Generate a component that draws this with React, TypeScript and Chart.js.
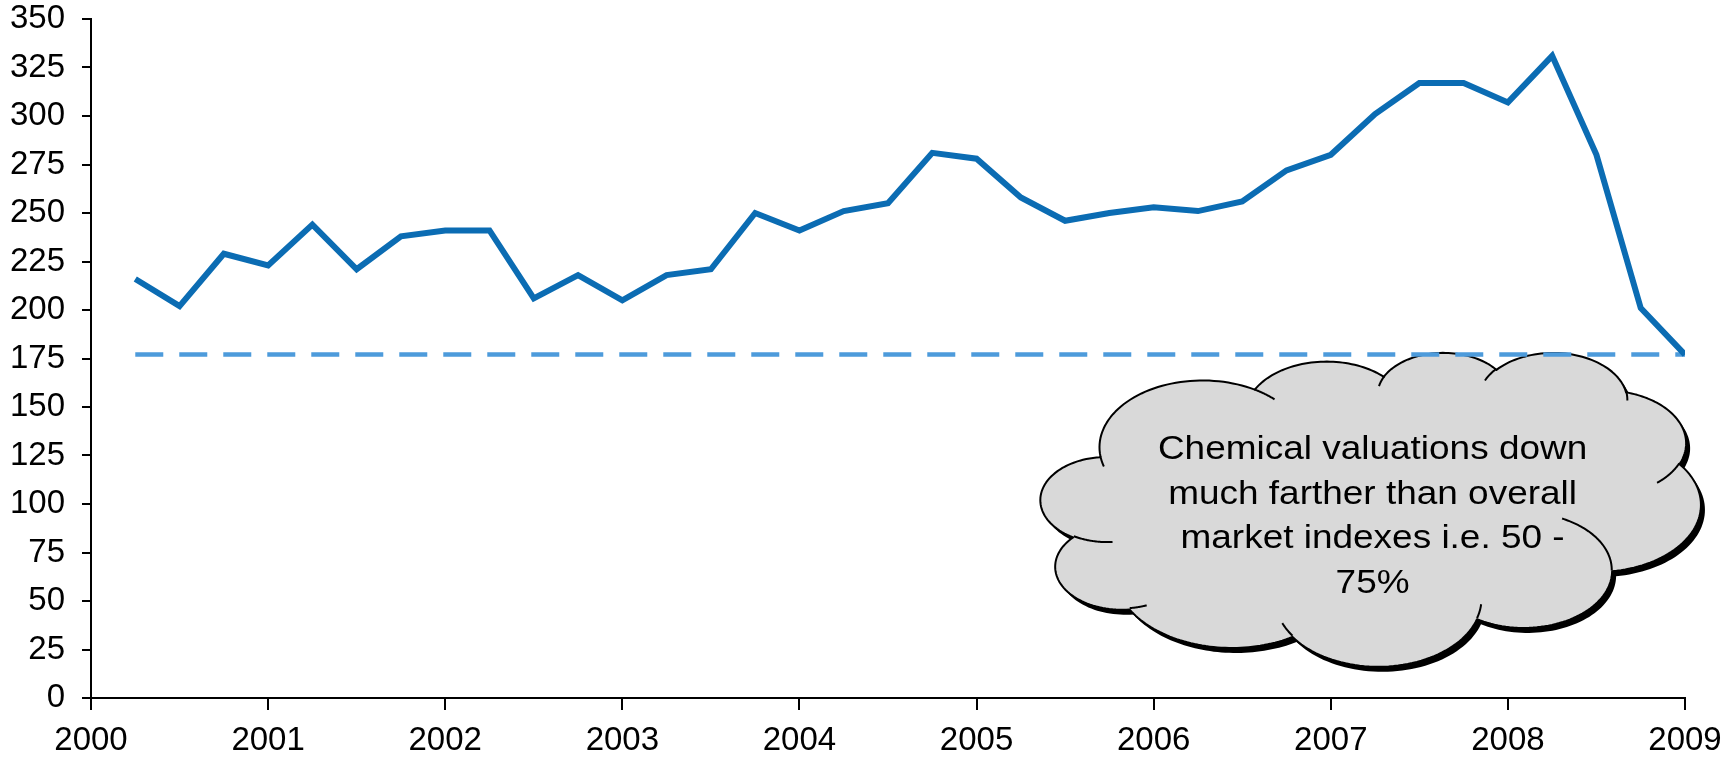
import { useEffect, useRef } from 'react';
import { Chart, registerables } from 'chart.js';

Chart.register(...registerables);

// Quarter-end positions (fractional years) and the valuation index at each one
const quarterPositions = [
  2000.25, 2000.5, 2000.75, 2001.0,
  2001.25, 2001.5, 2001.75, 2002.0,
  2002.25, 2002.5, 2002.75, 2003.0,
  2003.25, 2003.5, 2003.75, 2004.0,
  2004.25, 2004.5, 2004.75, 2005.0,
  2005.25, 2005.5, 2005.75, 2006.0,
  2006.25, 2006.5, 2006.75, 2007.0,
  2007.25, 2007.5, 2007.75, 2008.0,
  2008.25, 2008.5, 2008.75, 2009.0,
];
const indexValues = [
  216, 202, 229, 223,
  244, 221, 238, 241,
  241, 206, 218, 205,
  218, 221, 250, 241,
  251, 255, 281, 278,
  258, 246, 250, 253,
  251, 256, 272, 280,
  301, 317, 317, 307,
  331, 280, 201, 177,
];

// Reference level drawn as a dashed line across the period
const referenceLevel = 177;
const referenceSpan = [2000.25, 2009.0];

// Axis tick values
const yearTicks = [2000, 2001, 2002, 2003, 2004, 2005, 2006, 2007, 2008, 2009];
const valueTicks = [0, 25, 50, 75, 100, 125, 150, 175, 200, 225, 250, 275, 300, 325, 350];

// Callout text
const calloutLines = [
  'Chemical valuations down',
  'much farther than overall',
  'market indexes i.e. 50 -',
  '75%',
];

const FONT = "'Liberation Sans', Arial, Helvetica, sans-serif";

// Cloud outline in a 43200 x 43200 design space: start point, then elliptical arcs
// [wR, hR, startAngle, sweepAngle] with angles in 60000ths of a degree.
const CLOUD_START = [3900, 14370];
const CLOUD_ARCS = [
  [6753, 9190, -11429249, 7426832],
  [5333, 7267, -8646143, 5396714],
  [4365, 5945, -8748475, 5983381],
  [4857, 6595, -7859164, 7034504],
  [5333, 7273, -4722533, 6541615],
  [6775, 9220, -2776035, 7816140],
  [5785, 7867, 37501, 6842000],
  [6752, 9215, 1347096, 6910353],
  [7720, 10543, 3974558, 4542661],
  [4360, 5918, -16496525, 8804134],
  [4345, 5945, -14809710, 9151131],
];
// Small inner arcs where the puffs meet: [x, y, wR, hR, startAngle, sweepAngle]
const CLOUD_CREASES = [
  [4693, 26177, 4345, 5945, 5204520, 1585770],
  [6928, 34899, 4360, 5918, 4416628, 686848],
  [16478, 39090, 6752, 9215, 8257449, 844866],
  [28827, 34751, 6752, 9215, 387196, 959901],
  [34129, 22954, 5785, 7867, -4217541, 4255042],
  [41798, 15354, 5333, 7273, 1819082, 1665090],
  [38324, 5426, 4857, 6595, -824660, 891534],
  [29078, 3952, 4857, 6595, -8950887, 1091722],
  [22141, 4720, 4365, 5945, -9809656, 1061181],
  [14000, 5192, 6753, 9190, -4002417, 739161],
  [4127, 15789, 6753, 9190, 9459261, 711490],
];

type Pt = [number, number];

function arcPoints(x0: number, y0: number, wR: number, hR: number, st: number, sw: number): Pt[] {
  const rad = (a: number) => (a / 60000) * Math.PI / 180;
  const toParam = (a: number) => Math.atan2(wR * Math.sin(a), hR * Math.cos(a));
  const sweep = rad(sw);
  const t1 = toParam(rad(st));
  let t2 = toParam(rad(st + sw));
  while (sweep > 0 && t2 < t1) t2 += Math.PI * 2;
  while (sweep < 0 && t2 > t1) t2 -= Math.PI * 2;
  const cx = x0 - wR * Math.cos(t1);
  const cy = y0 - hR * Math.sin(t1);
  const n = 48;
  const pts: Pt[] = [];
  for (let i = 0; i <= n; i++) {
    const t = t1 + ((t2 - t1) * i) / n;
    pts.push([cx + wR * Math.cos(t), cy + hR * Math.sin(t)]);
  }
  return pts;
}

function buildCloud() {
  const outline: Pt[] = [[CLOUD_START[0], CLOUD_START[1]]];
  let cur: Pt = [CLOUD_START[0], CLOUD_START[1]];
  for (const [wR, hR, st, sw] of CLOUD_ARCS) {
    const pts = arcPoints(cur[0], cur[1], wR, hR, st, sw);
    outline.push(...pts.slice(1));
    cur = pts[pts.length - 1];
  }
  const creases = CLOUD_CREASES.map(([x, y, wR, hR, st, sw]) => arcPoints(x, y, wR, hR, st, sw));
  return { outline, creases };
}

const calloutPlugin = {
  id: 'cloudCallout',
  beforeDatasetsDraw(chart: any) {
    const { ctx, scales } = chart;
    const xs = scales.x;
    const ys = scales.y;
    // Cloud box anchored to the axes
    const left = xs.getPixelForValue(2005.36);
    const right = xs.getPixelForValue(2009.09);
    const top = ys.getPixelForValue(177.9);
    const bottom = ys.getPixelForValue(16.1);

    const { outline, creases } = buildCloud();
    let minX = Infinity, maxX = -Infinity, minY = Infinity, maxY = -Infinity;
    for (const [x, y] of outline) {
      minX = Math.min(minX, x); maxX = Math.max(maxX, x);
      minY = Math.min(minY, y); maxY = Math.max(maxY, y);
    }
    const sx = (right - left) / (maxX - minX);
    const sy = (bottom - top) / (maxY - minY);
    const map = ([x, y]: Pt): Pt => [left + (x - minX) * sx, top + (y - minY) * sy];

    const tracePath = (pts: Pt[], dx: number, dy: number) => {
      ctx.beginPath();
      pts.forEach((p, i) => {
        const [x, y] = map(p);
        if (i === 0) ctx.moveTo(x + dx, y + dy);
        else ctx.lineTo(x + dx, y + dy);
      });
    };

    ctx.save();
    // drop shadow
    tracePath(outline, 4, 5);
    ctx.closePath();
    ctx.fillStyle = '#000000';
    ctx.fill();
    // body
    tracePath(outline, 0, 0);
    ctx.closePath();
    ctx.fillStyle = '#d9d9d9';
    ctx.fill();
    ctx.lineWidth = 2;
    ctx.lineJoin = 'round';
    ctx.strokeStyle = '#000000';
    ctx.stroke();
    // creases
    for (const c of creases) {
      tracePath(c, 0, 0);
      ctx.stroke();
    }
    // text
    ctx.fillStyle = '#000000';
    ctx.font = `33px ${FONT}`;
    ctx.textAlign = 'center';
    ctx.textBaseline = 'alphabetic';
    const cx = xs.getPixelForValue(2007.236);
    const firstBaseline = top + 106;
    const lineStep = 44.7;
    calloutLines.forEach((line, i) => {
      ctx.save();
      ctx.translate(cx, firstBaseline + i * lineStep);
      ctx.scale(1.12, 1);
      ctx.fillText(line, 0, 0);
      ctx.restore();
    });
    ctx.restore();
  },
};

export default function App() {
  const canvasRef = useRef<HTMLCanvasElement>(null);

  useEffect(() => {
    const canvas = canvasRef.current;
    if (!canvas) return;

    const chart = new Chart(canvas, {
      type: 'line',
      data: {
        datasets: [
          {
            label: 'Index',
            data: quarterPositions.map((x, i) => ({ x, y: indexValues[i] })),
            borderColor: '#0b6cb3',
            borderWidth: 6,
            pointRadius: 0,
            tension: 0,
            fill: false,
          },
          {
            label: 'Reference',
            data: referenceSpan.map((x) => ({ x, y: referenceLevel })),
            borderColor: '#4d9bdb',
            borderWidth: 4.5,
            borderDash: [28, 16],
            pointRadius: 0,
            tension: 0,
            fill: false,
          },
        ],
      },
      options: {
        animation: false,
        responsive: true,
        maintainAspectRatio: false,
        layout: { padding: { top: 19, right: 51, left: 0, bottom: 0 } },
        plugins: {
          legend: { display: false },
          tooltip: { enabled: false },
        },
        scales: {
          x: {
            type: 'linear',
            min: 2000,
            max: 2009,
            afterBuildTicks: (scale: any) => {
              scale.ticks = yearTicks.map((value) => ({ value }));
            },
            afterFit: (scale: any) => {
              scale.height = 68;
              scale.paddingLeft = 0;
              scale.paddingRight = 0;
            },
            ticks: {
              callback: (v: any) => String(v),
              color: '#000000',
              font: { family: FONT, size: 33 },
              padding: 11,
              maxRotation: 0,
              autoSkip: false,
            },
            grid: {
              drawOnChartArea: false,
              drawTicks: true,
              tickLength: 12,
              color: '#000000',
              lineWidth: 2,
            },
            border: { display: true, color: '#000000', width: 2 },
          },
          y: {
            type: 'linear',
            min: 0,
            max: 350,
            afterBuildTicks: (scale: any) => {
              scale.ticks = valueTicks.map((value) => ({ value }));
            },
            afterFit: (scale: any) => {
              scale.width = 91;
              scale.paddingTop = 0;
              scale.paddingBottom = 0;
            },
            ticks: {
              callback: (v: any) => String(v),
              color: '#000000',
              font: { family: FONT, size: 33 },
              padding: 17,
              autoSkip: false,
            },
            grid: {
              drawOnChartArea: false,
              drawTicks: true,
              tickLength: 9,
              color: '#000000',
              lineWidth: 2,
            },
            border: { display: true, color: '#000000', width: 2 },
          },
        },
      },
      plugins: [calloutPlugin],
    } as any);

    return () => chart.destroy();
  }, []);

  return (
    <div style={{ position: 'absolute', left: 0, top: 0, width: 1736, height: 766 }}>
      <canvas ref={canvasRef} />
    </div>
  );
}
